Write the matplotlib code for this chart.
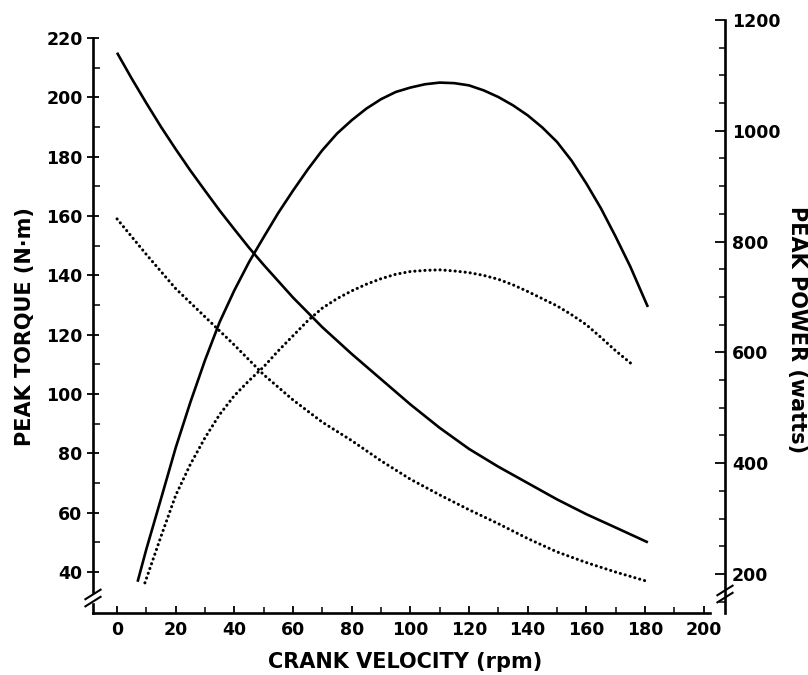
import matplotlib
matplotlib.use("Agg")
import matplotlib.pyplot as plt
from matplotlib.ticker import MultipleLocator

# ---- data ----
rpm_torque_max = [0, 5, 10, 15, 20, 25, 30, 35, 40, 45, 50, 60, 70, 80, 90, 100, 110, 120, 130, 140, 150, 160, 170, 181]
torque_max = [215, 206.3, 198, 190, 182.5, 175.3, 168.5, 161.8, 155.5, 149.3, 143.5, 132.5, 122.5, 113.5, 105, 96.5,
              88.6, 81.5, 75.5, 70, 64.5, 59.5, 55, 50]

rpm_torque_min = [0, 10, 20, 30, 40, 50, 60, 70, 80, 90, 100, 110, 120, 130, 140, 150, 160, 170, 181]
torque_min = [159, 147, 135.5, 126, 116.5, 106.5, 98, 90.5, 84.3, 77.5, 71.3, 66, 61, 56.3, 51.3, 46.8, 43.2, 40, 36.8]

rpm_power_max = [7, 10, 15, 20, 25, 30, 35, 40, 45, 50, 55, 60, 65, 70, 75, 80, 85, 90, 95, 100, 105, 110,
                 115, 120, 125, 130, 135, 140, 145, 150, 155, 160, 165, 170, 175, 181]
power_max = [186, 245, 336, 428, 510, 586, 655, 712, 763, 808, 852, 892, 930, 965, 995, 1019, 1040, 1057, 1070, 1078,
             1084, 1087, 1086, 1082, 1073, 1061, 1046, 1028, 1006, 980, 946, 905, 860, 809, 755, 682]

rpm_power_min = [9.5, 15, 20, 25, 30, 35, 40, 45, 50, 55, 60, 65, 70, 75, 80, 85, 90, 95, 100, 105, 110, 115,
                 120, 125, 130, 135, 140, 145, 150, 155, 160, 165, 170, 175.5]
power_min = [184, 268, 342, 398, 446, 488, 522, 549, 574, 603, 630, 657, 680, 697, 711, 723, 733, 741, 746, 748,
             749, 747, 744, 739, 732, 722, 710, 697, 684, 668, 650, 627, 603, 579]

x_ticks = list(range(0, 201, 20))
torque_ticks = list(range(40, 221, 20))
power_ticks = list(range(200, 1201, 200))

FONT = "DejaVu Sans"
plt.rcParams["font.family"] = [FONT]
plt.rcParams["font.weight"] = "bold"

W, H = 808, 675
fig = plt.figure(figsize=(W / 100, H / 100), dpi=100)
ax_l, ax_r, ax_b, ax_t = 93, 725, 613, 18
ax = fig.add_axes([ax_l / W, 1 - ax_b / H, (ax_r - ax_l) / W, (ax_b - ax_t) / H])
ax.set_xlim(-8.2, 207.3)
ax.set_ylim(26.2, 226.7)
ax2 = ax.twinx()
ax2.set_ylim(129.6, 1203.6)

lw = 1.9
dot_lw = 2.2
dot_style = (0, (0.05, 1.6))
ax.plot(rpm_torque_max, torque_max, color="black", lw=lw, solid_capstyle="butt", solid_joinstyle="round")
ax.plot(rpm_torque_min, torque_min, color="black", lw=dot_lw, linestyle=dot_style,
        dash_capstyle="round")
ax2.plot(rpm_power_max, power_max, color="black", lw=lw, solid_capstyle="butt", solid_joinstyle="round")
ax2.plot(rpm_power_min, power_min, color="black", lw=dot_lw, linestyle=dot_style,
         dash_capstyle="round")

# spines
for s in ["top", "right"]:
    ax.spines[s].set_visible(False)
for s in ["top", "left", "bottom"]:
    ax2.spines[s].set_visible(False)
ax.spines["left"].set_bounds(26.2, 220)
ax.spines["bottom"].set_bounds(-8.2, 202.2)
ax2.spines["right"].set_bounds(129.6, 1200)
for sp in [ax.spines["left"], ax.spines["bottom"], ax2.spines["right"]]:
    sp.set_linewidth(1.9)

# ticks
ax.set_xticks(x_ticks)
ax.xaxis.set_minor_locator(MultipleLocator(10))
ax.set_yticks(torque_ticks)
ax.yaxis.set_minor_locator(MultipleLocator(10))
ax2.set_yticks(power_ticks)
ax2.yaxis.set_minor_locator(MultipleLocator(50))

fs = 12.5
ax.tick_params(axis="x", which="major", direction="in", length=5, width=1.3, pad=6, labelsize=fs)
ax.tick_params(axis="x", which="minor", direction="in", length=4, width=1.1)
ax.tick_params(axis="y", which="major", direction="inout", length=9, width=1.3, pad=3, labelsize=fs)
ax.tick_params(axis="y", which="minor", direction="in", length=5, width=1.1)
ax2.tick_params(axis="y", which="major", direction="in", length=7, width=1.3, pad=5, labelsize=fs)
ax2.tick_params(axis="y", which="minor", direction="in", length=4, width=1.1)
for lab in ax.get_xticklabels() + ax.get_yticklabels() + ax2.get_yticklabels():
    lab.set_fontweight("bold")

# axis labels
fig.text(405 / W, 1 - 662 / H, "CRANK VELOCITY (rpm)", ha="center", va="center",
         fontsize=15, fontweight="bold")
fig.text(25 / W, 1 - 327 / H, "PEAK TORQUE (N·m)", ha="center", va="center",
         rotation=90, fontsize=15, fontweight="bold")
fig.text(797 / W, 1 - 330 / H, "PEAK POWER (watts)", ha="center", va="center",
         rotation=-90, fontsize=15, fontweight="bold")

# axis break marks (decoration)
def brk(axis_x_frac, y_frac):
    dy = 0.006
    dx = 0.012
    ax.add_patch(plt.Rectangle((axis_x_frac - 0.01, y_frac - dy), 0.02, 2 * dy,
                               transform=ax.transAxes, color="white", clip_on=False, zorder=5))
    for off in (-dy, dy):
        ax.plot([axis_x_frac - dx, axis_x_frac + dx], [y_frac + off - 0.008, y_frac + off + 0.008],
                transform=ax.transAxes, color="black", lw=1.5, clip_on=False, zorder=6)

brk(0.0, (ax_b - 598) / (ax_b - ax_t))
brk(1.0, (ax_b - 594) / (ax_b - ax_t))

fig.savefig("out.png", dpi=100, facecolor="white")
